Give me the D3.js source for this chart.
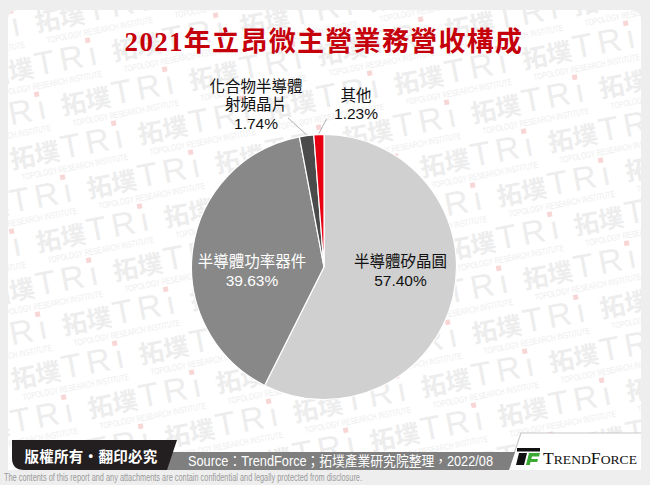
<!DOCTYPE html>
<html><head><meta charset="utf-8">
<script src="https://cdn.jsdelivr.net/npm/d3@7"></script>
<style>html,body{margin:0;padding:0;background:#eeeeee;}svg{display:block;}</style>
</head><body>
<svg id="c" width="650" height="485"></svg>
<script>
// ---- data ----
const title = "2021年立昂微主營業務營收構成";
const categories = ["半導體矽晶圓", "半導體功率器件", "化合物半導體射頻晶片", "其他"];
const values = [57.40, 39.63, 1.74, 1.23];
const colors = ["#d0d0d0", "#888888", "#4b4b4b", "#e60012"];
const sourceText = "Source：TrendForce；拓墣產業研究院整理，2022/08";
const copyrightText = "版權所有・翻印必究";
const disclaimer = "The contents of this report and any attachments are contain confidential and legally protected from disclosure.";
const watermarkCn = "拓墣";
const watermarkEn = "TOPOLOGY RESEARCH INSTITUTE";

// ---- layout ----
const W = 650, H = 485;
const cx = 324, cy = 267, R = 132.5;
const labelLayout = [
  {x: 400.5, y: 267, lines: ["半導體矽晶圓"], fill: "#111", inside: true},
  {x: 252, y: 267, lines: ["半導體功率器件"], fill: "#fff", inside: true},
  {x: 256, y: 91.5, lines: ["化合物半導體", "射頻晶片"], fill: "#111", inside: false, lx: 288, ly: 118},
  {x: 356, y: 100.5, lines: ["其他"], fill: "#111", inside: false, lx: 326.5, ly: 119}
];
const FONT = "'Liberation Sans', Arial, 'Noto Sans CJK TC', sans-serif";

const svg = d3.select("#c");

// background panel
svg.append("rect").attr("width", W).attr("height", H).attr("fill", "#eeeeee");
const panelD = "M8,470 L8,20 Q8,10 18,10 L631,10 Q641,10 641,20 L641,470 Z";
svg.append("path").attr("d", panelD).attr("fill", "#ffffff");
svg.append("clipPath").attr("id", "panelClip").append("path").attr("d", panelD);

// watermark (tiled logo)
const wm = svg.append("g").attr("clip-path", "url(#panelClip)").attr("pointer-events", "none");
const pv = [77, 29], qv = [-51, 54], org = [473, 123], ROT = -11;
for (let i = -14; i <= 14; i++) {
  for (let j = -10; j <= 10; j++) {
    const x = org[0] + i * pv[0] + j * qv[0];
    const y = org[1] + i * pv[1] + j * qv[1];
    if (x < -118 || x > 636 || y < 0 || y > 485) continue;
    const g = wm.append("g").attr("transform", `translate(${x},${y}) rotate(${ROT})`);
    g.append("text").attr("font-family", "'Noto Sans CJK TC', sans-serif").attr("font-weight", "bold")
      .attr("font-size", 25).attr("fill", "#ededed").text(watermarkCn);
    g.append("text").attr("x", 52).attr("font-family", FONT)
      .attr("font-size", 33).attr("letter-spacing", 5).attr("fill", "#ededed").text("TRı");
    g.append("rect").attr("x", 106).attr("y", -28).attr("width", 5).attr("height", 5).attr("fill", "#f8d6d6");
    g.append("text").attr("x", 8).attr("y", 13).attr("font-family", FONT)
      .attr("font-size", 9).attr("fill", "#eeeeee")
      .attr("textLength", 108).attr("lengthAdjust", "spacingAndGlyphs").text(watermarkEn);
  }
}

// title
svg.append("text")
  .attr("x", 324).attr("y", 51)
  .attr("text-anchor", "middle")
  .attr("font-family", "'Liberation Serif', 'Noto Sans CJK TC', serif")
  .attr("font-weight", "bold")
  .attr("font-size", 27)
  .attr("letter-spacing", 1.3)
  .attr("fill", "#c5000b")
  .text(title);

// pie
const data = categories.map((c, i) => ({cat: c, value: values[i], color: colors[i], i}));
const pie = d3.pie().sort(null).value(d => d.value).startAngle(0).endAngle(2 * Math.PI);
const arcs = pie(data);
const arc = d3.arc().innerRadius(0).outerRadius(R);
const edgeArc = d3.arc().innerRadius(R + 1).outerRadius(R + 1);

const gp = svg.append("g").attr("transform", `translate(${cx},${cy})`);
gp.selectAll("path.slice").data(arcs).join("path")
  .attr("class", "slice")
  .attr("d", arc)
  .attr("fill", d => d.data.color)
  .attr("stroke", "#ffffff")
  .attr("stroke-width", 1.2);

// leader lines
arcs.forEach((a, i) => {
  const L = labelLayout[i];
  if (!L.inside) {
    const p = edgeArc.centroid(a);
    svg.append("line")
      .attr("x1", cx + p[0]).attr("y1", cy + p[1])
      .attr("x2", L.lx).attr("y2", L.ly)
      .attr("stroke", "#b0b0b0").attr("stroke-width", 1);
  }
});

// labels
arcs.forEach((a, i) => {
  const L = labelLayout[i];
  const t = svg.append("text")
    .attr("text-anchor", "middle")
    .attr("font-family", FONT)
    .attr("font-size", 15.5)
    .attr("fill", L.fill);
  const lines = L.lines.concat([values[i].toFixed(2) + "%"]);
  lines.forEach((ln, k) => {
    t.append("tspan").attr("x", L.x).attr("y", L.y + k * 18.5).text(ln);
  });
});

// footer
const ft = svg.append("g");
ft.append("path").attr("d", "M511,470 L521,433 L641,433 L641,470 Z").attr("fill", "#ffffff");
ft.append("path").attr("d", "M509,468 L521,433 L641,433")
  .attr("fill", "none").attr("stroke", "#c8c8c8").attr("stroke-width", 1.2);
ft.append("path").attr("d", "M150,452 L515,452 L509,470 L150,470 Z").attr("fill", "#7f7f7f");
ft.append("path").attr("d", "M12,440 L177,440 L167,470 L24,470 Q12,470 12,458 Z").attr("fill", "#231f20");
ft.append("text").attr("x", 91).attr("y", 462).attr("text-anchor", "middle")
  .attr("font-family", "'Noto Sans CJK TC', sans-serif").attr("font-weight", "bold")
  .attr("font-size", 14.5).attr("fill", "#ffffff").attr("letter-spacing", 0.3).text(copyrightText);
ft.append("text").attr("x", 188).attr("y", 465.5)
  .attr("font-family", FONT).attr("font-size", 14).attr("fill", "#ffffff")
  .attr("textLength", 305).attr("lengthAdjust", "spacingAndGlyphs").text(sourceText);

// TrendForce logo
const lg = ft.append("g");
lg.append("rect").attr("x", 517).attr("y", 448).attr("width", 23).attr("height", 3.5).attr("fill", "#111");
lg.append("path").attr("d", "M519,453 L527,453 L524,465 L516,465 Z").attr("fill", "#111");
lg.append("path").attr("d", "M529,453 L540,453 L539,456.5 L532,456.5 L531.3,459 L538,459 L537.2,462 L530.5,462 L529.8,465 L526,465 Z")
  .attr("fill", "#3aaa35");
const tf = lg.append("text").attr("x", 543).attr("y", 464)
  .attr("font-family", "'Liberation Serif', serif").attr("fill", "#111")
  .attr("textLength", 94).attr("lengthAdjust", "spacingAndGlyphs");
tf.append("tspan").attr("font-size", 17.5).text("T");
tf.append("tspan").attr("font-size", 13.5).text("REND");
tf.append("tspan").attr("font-size", 17.5).text("F");
tf.append("tspan").attr("font-size", 13.5).text("ORCE");

// disclaimer
svg.append("text").attr("x", 4).attr("y", 481)
  .attr("font-family", FONT).attr("font-size", 10).attr("fill", "#9a9a9a")
  .attr("textLength", 358).attr("lengthAdjust", "spacingAndGlyphs").text(disclaimer);
</script>
</body></html>
